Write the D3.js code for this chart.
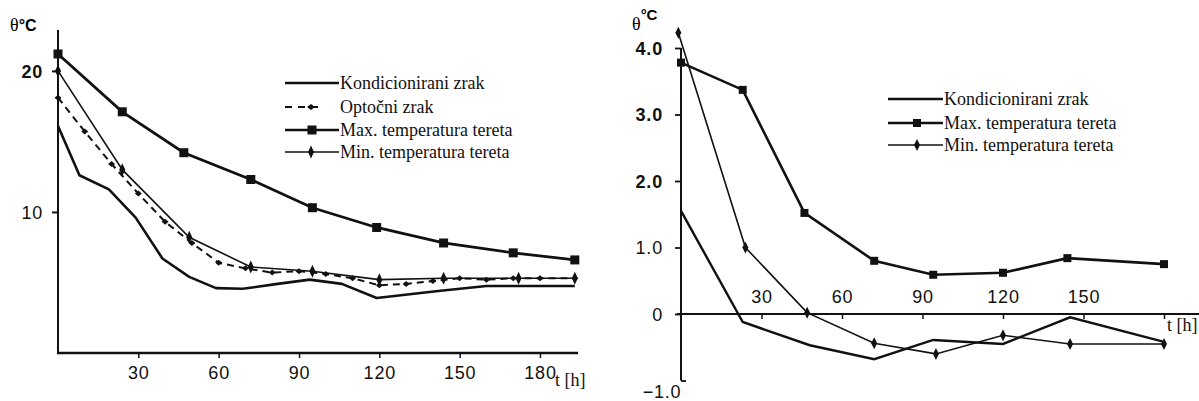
<!DOCTYPE html>
<html><head><meta charset="utf-8">
<script src="https://cdn.jsdelivr.net/npm/d3@7"></script>
<style>
html,body{margin:0;padding:0;background:#fff;}
svg{display:block;}
.tick text{font-family:"Liberation Sans",Arial,sans-serif;font-size:18px;fill:#111;letter-spacing:0.8px;}
.leg{font-family:"Liberation Serif","Times New Roman",serif;font-size:18px;fill:#111;}
</style></head>
<body>
<svg id="c" width="1199" height="401"></svg>
<script>
// ---------- LEFT CHART DATA ----------
const leftXTicks = [30, 60, 90, 120, 150, 180];
const leftYTicks = [10, 20];
const leftKondT = [0, 8, 19, 29, 39, 49, 59, 69, 82, 94, 106, 119, 142, 160, 193];
const leftKondV = [16.1, 12.6, 11.6, 9.6, 6.7, 5.4, 4.6, 4.55, 4.9, 5.2, 4.9, 3.9, 4.4, 4.75, 4.75];
const leftOptT = [0, 10, 20, 30, 40, 50, 60, 70, 80, 90, 100, 110, 120, 130, 140, 150, 160, 170, 180, 193];
const leftOptV = [18.1, 15.7, 13.4, 11.3, 9.3, 7.8, 6.4, 6.0, 5.7, 5.8, 5.6, 5.3, 4.8, 4.9, 5.1, 5.3, 5.2, 5.3, 5.3, 5.3];
const leftMaxT = [0, 24, 47, 72, 95, 119, 144, 170, 193];
const leftMaxV = [21.2, 17.1, 14.2, 12.3, 10.3, 8.9, 7.8, 7.1, 6.6];
const leftMinT = [0, 24, 49, 72, 95, 120, 144, 172, 193];
const leftMinV = [20.0, 13.0, 8.2, 6.1, 5.8, 5.2, 5.3, 5.3, 5.3];
const leftLegend = ["Kondicionirani zrak", "Optočni zrak", "Max. temperatura tereta", "Min. temperatura tereta"];

// ---------- RIGHT CHART DATA ----------
const rightXTicks = [30, 60, 90, 120, 150, 180];
const rightXLabels = [30, 60, 90, 120, 150];
const rightYTicks = [-1, 0, 1, 2, 3, 4];
const rightYLabels = ["\u22121.0", "0", "1.0", "2.0", "3.0", "4.0"];
const rightKondT = [0, 23, 48, 72, 94, 120, 145, 180];
const rightKondV = [1.55, -0.12, -0.47, -0.68, -0.39, -0.45, -0.05, -0.42];
const rightMaxT = [0, 23, 46, 72, 94, 120, 144, 180];
const rightMaxV = [3.78, 3.37, 1.52, 0.80, 0.59, 0.62, 0.84, 0.75];
const rightMinT = [-1, 24, 47, 72, 95, 120, 145, 180];
const rightMinV = [4.23, 1.0, 0.02, -0.44, -0.60, -0.32, -0.45, -0.45];
const rightLegend = ["Kondicionirani zrak", "Max. temperatura tereta", "Min. temperatura tereta"];

const svg = d3.select("#c");
const zip = (t, v) => t.map((d, i) => [d, v[i]]);

function square(g, x, y, s) {
  g.append("rect").attr("x", x - s / 2).attr("y", y - s / 2).attr("width", s).attr("height", s).attr("fill", "#111");
}
function diamond(g, x, y, w, h) {
  g.append("path").attr("d", `M${x},${y - h / 2}L${x + w / 2},${y}L${x},${y + h / 2}L${x - w / 2},${y}Z`).attr("fill", "#111");
}

// ================= LEFT =================
const xL = d3.scaleLinear().domain([0, 180]).range([58, 540]);
const yL = d3.scaleLinear().domain([0, 22.9]).range([353, 30]);
const L = svg.append("g");

const yAxL = L.append("g").attr("transform", `translate(${xL(0)},0)`)
  .call(d3.axisLeft(yL).tickValues(leftYTicks).tickSize(6).tickPadding(9).tickFormat(d3.format("d")));
yAxL.select(".domain").remove();
yAxL.selectAll(".tick line").attr("stroke", "#111").attr("stroke-width", 2);
yAxL.selectAll(".tick text").attr("dy", "0.36em").filter(d => d === 20).attr("font-weight", "bold");
L.append("line").attr("x1", xL(0)).attr("x2", xL(0)).attr("y1", 30).attr("y2", yL(0) + 1).attr("stroke", "#111").attr("stroke-width", 2);

const xAxL = L.append("g").attr("transform", `translate(0,${yL(0)})`)
  .call(d3.axisBottom(xL).tickValues(leftXTicks).tickSize(5).tickPadding(8).tickFormat(d3.format("d")));
xAxL.select(".domain").remove();
xAxL.selectAll(".tick line").attr("stroke", "#111").attr("stroke-width", 1.5);
L.append("line").attr("x1", xL(0) - 1).attr("x2", 578).attr("y1", yL(0)).attr("y2", yL(0)).attr("stroke", "#111").attr("stroke-width", 2.5);

const thL = L.append("text").attr("x", 10).attr("y", 31);
thL.append("tspan").attr("font-family", "Liberation Serif, serif").attr("font-size", 18).text("θ");
thL.append("tspan").attr("font-family", "Liberation Sans, sans-serif").attr("font-size", 16).attr("font-weight", "bold").text("°C");
L.append("text").attr("class", "leg").attr("x", 555).attr("y", 386).text("t [h]");

const lineL = d3.line().x(d => xL(d[0])).y(d => yL(d[1]));
L.append("path").datum(zip(leftKondT, leftKondV)).attr("d", lineL).attr("fill", "none").attr("stroke", "#111").attr("stroke-width", 2.6).attr("stroke-linejoin", "round");
L.append("path").datum(zip(leftOptT, leftOptV)).attr("d", lineL).attr("fill", "none").attr("stroke", "#111").attr("stroke-width", 2).attr("stroke-dasharray", "7,5");
zip(leftOptT, leftOptV).forEach(d => diamond(L, xL(d[0]), yL(d[1]), 7, 6));
L.append("path").datum(zip(leftMinT, leftMinV)).attr("d", lineL).attr("fill", "none").attr("stroke", "#111").attr("stroke-width", 1.6);
zip(leftMinT, leftMinV).forEach(d => diamond(L, xL(d[0]), yL(d[1]), 6, 13));
L.append("path").datum(zip(leftMaxT, leftMaxV)).attr("d", lineL).attr("fill", "none").attr("stroke", "#111").attr("stroke-width", 2.8);
zip(leftMaxT, leftMaxV).forEach(d => square(L, xL(d[0]), yL(d[1]), 9));

const legLY = [83, 107, 130, 152];
leftLegend.forEach((t, i) => {
  const y = legLY[i];
  if (i === 1) {
    L.append("line").attr("x1", 285).attr("x2", 318).attr("y1", y).attr("y2", y).attr("stroke", "#111").attr("stroke-width", 2).attr("stroke-dasharray", "7,6");
    diamond(L, 311, y, 8, 6);
  } else {
    L.append("line").attr("x1", 285).attr("x2", 339).attr("y1", y).attr("y2", y).attr("stroke", "#111").attr("stroke-width", i === 3 ? 1.6 : 2.6);
    if (i === 2) square(L, 312, y, 9);
    if (i === 3) diamond(L, 311, y, 6, 13);
  }
  L.append("text").attr("class", "leg").attr("x", 340).attr("y", y + 6).text(t);
});

// ================= RIGHT =================
const xR = d3.scaleLinear().domain([0, 180]).range([681, 1164]);
const yR = d3.scaleLinear().domain([-1, 4]).range([380.5, 48]);
const R = svg.append("g");

const yAxR = R.append("g").attr("transform", `translate(${xR(0)},0)`)
  .call(d3.axisLeft(yR).tickValues(rightYTicks).tickSize(6).tickPadding(12).tickFormat((d, i) => rightYLabels[i]));
yAxR.select(".domain").remove();
yAxR.selectAll(".tick line").attr("stroke", "#111").attr("stroke-width", 1.8);
yAxR.selectAll(".tick text").attr("dy", "0.36em").filter(d => d >= 2).attr("font-weight", "bold");
yAxR.selectAll(".tick").filter(d => d === -1).select("text").attr("text-anchor", "middle").attr("x", -19).attr("dy", "0.95em");
yAxR.selectAll(".tick").filter(d => d === -1).select("line").attr("x2", 5).attr("x1", 0);
R.append("line").attr("x1", xR(0)).attr("x2", xR(0)).attr("y1", yR(4)).attr("y2", yR(-1)).attr("stroke", "#111").attr("stroke-width", 2);

const xAxR = R.append("g").attr("transform", `translate(0,${yR(0)})`)
  .call(d3.axisBottom(xR).tickValues(rightXTicks).tickSize(5).tickFormat(""));
xAxR.select(".domain").remove();
xAxR.selectAll(".tick line").attr("stroke", "#111").attr("stroke-width", 1.5);
const xAxR2 = R.append("g").attr("transform", `translate(0,${yR(0)})`)
  .call(d3.axisTop(xR).tickValues(rightXLabels).tickSize(0).tickPadding(11).tickFormat(d3.format("d")));
xAxR2.select(".domain").remove();
R.append("line").attr("x1", 677).attr("x2", 1199).attr("y1", yR(0)).attr("y2", yR(0)).attr("stroke", "#111").attr("stroke-width", 1.8);

const thR = R.append("text").attr("x", 632);
thR.append("tspan").attr("y", 30).attr("font-family", "Liberation Serif, serif").attr("font-size", 18).text("θ");
thR.append("tspan").attr("y", 20).attr("font-family", "Liberation Sans, sans-serif").attr("font-size", 15).attr("font-weight", "bold").text("°C");
R.append("text").attr("class", "leg").attr("x", 1167).attr("y", 331).text("t [h]");

const lineR = d3.line().x(d => xR(d[0])).y(d => yR(d[1]));
R.append("path").datum(zip(rightKondT, rightKondV)).attr("d", lineR).attr("fill", "none").attr("stroke", "#111").attr("stroke-width", 2.4);
R.append("path").datum(zip(rightMinT, rightMinV)).attr("d", lineR).attr("fill", "none").attr("stroke", "#111").attr("stroke-width", 1.6);
zip(rightMinT, rightMinV).forEach(d => diamond(R, xR(d[0]), yR(d[1]), 6, 12));
R.append("path").datum(zip(rightMaxT, rightMaxV)).attr("d", lineR).attr("fill", "none").attr("stroke", "#111").attr("stroke-width", 2.6);
zip(rightMaxT, rightMaxV).forEach(d => square(R, xR(d[0]), yR(d[1]), 8));

const legRY = [99, 123, 145];
rightLegend.forEach((t, i) => {
  const y = legRY[i];
  R.append("line").attr("x1", 888).attr("x2", 943).attr("y1", y).attr("y2", y).attr("stroke", "#111").attr("stroke-width", i === 2 ? 1.6 : 2.4);
  if (i === 1) square(R, 917, y, 8);
  if (i === 2) diamond(R, 917, y, 6, 12);
  R.append("text").attr("class", "leg").attr("x", 944).attr("y", y + 6).text(t);
});
</script>
</body></html>
